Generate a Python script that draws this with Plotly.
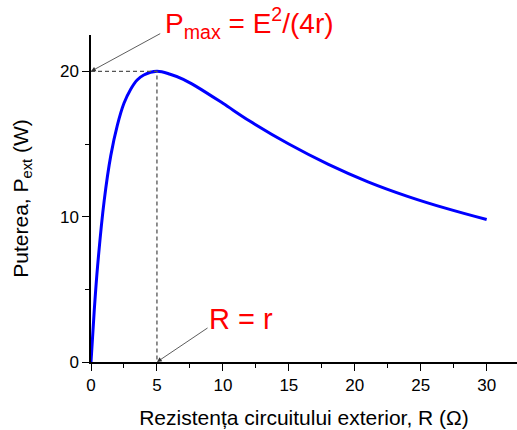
import plotly.graph_objects as go

# Data
R_vals = [0, 0.25, 0.5, 1, 1.5, 2, 2.5, 3, 3.5, 4, 5, 6, 7, 8, 10, 12, 15, 18, 21, 24, 27, 30]
P_vals = [0, 3.6, 6.6, 11.1, 14.2, 16.3, 17.8, 18.75, 19.4, 19.75, 20.0, 19.8, 19.45, 18.95,
          17.8, 16.6, 15.0, 13.6, 12.4, 11.4, 10.55, 9.8]
x_ticks = [0, 5, 10, 15, 20, 25, 30]
y_ticks = [0, 10, 20]
R_opt = 5
P_max = 20

FONT = "Liberation Sans, Arial, sans-serif"

fig = go.Figure()
fig.add_trace(go.Scatter(x=R_vals, y=P_vals, mode="lines",
                         line=dict(color="#0000ff", width=3, shape="spline", smoothing=1),
                         hoverinfo="skip", showlegend=False))
# dashed guide lines
fig.add_trace(go.Scatter(x=[0, R_opt, R_opt], y=[P_max, P_max, 0], mode="lines",
                         line=dict(color="#555555", width=1.3, dash="4px,3px"),
                         hoverinfo="skip", showlegend=False))

# arrows (no text)
fig.add_annotation(x=0, y=P_max, ax=5.36, ay=22.65, xref="x", yref="y", axref="x", ayref="y",
                   text="", showarrow=True, arrowhead=2, arrowsize=1.2, arrowwidth=0.8,
                   arrowcolor="#333333")
fig.add_annotation(x=R_opt, y=0, ax=8.95, ay=2.41, xref="x", yref="y", axref="x", ayref="y",
                   text="", showarrow=True, arrowhead=2, arrowsize=1.2, arrowwidth=0.8,
                   arrowcolor="#333333")
# labels
fig.add_annotation(x=0.168, y=1.036, xref="paper", yref="paper", xanchor="left", yanchor="middle",
                   text="P<sub>max</sub> = E<sup>2</sup>/(4r)", showarrow=False,
                   font=dict(family=FONT, size=28, color="#ff0000"))
fig.add_annotation(x=8.77, y=2.95, xref="x", yref="y", xanchor="left", yanchor="middle",
                   text="R = r", showarrow=False,
                   font=dict(family=FONT, size=29, color="#ff0000"))

axis_common = dict(showgrid=False, zeroline=False, showline=True, linecolor="black",
                   linewidth=1.5, ticks="outside", ticklen=7, tickwidth=1.3, tickcolor="black",
                   automargin=False,
                   tickfont=dict(family=FONT, size=17, color="black"))

fig.update_xaxes(range=[0, 32.3], tickvals=x_ticks,
                 minor=dict(dtick=2.5, tick0=0, ticks="outside", ticklen=4, tickcolor="black", tickwidth=1.2),
                 title=dict(text="Rezistența circuitului exterior, R (Ω)",
                            font=dict(family=FONT, size=21, color="black"), standoff=16),
                 **axis_common)
fig.update_yaxes(range=[0, 22.5], tickvals=y_ticks,
                 minor=dict(dtick=5, tick0=0, ticks="outside", ticklen=4, tickcolor="black", tickwidth=1.2),
                 title=dict(text="Puterea, P<sub>ext</sub> (W)",
                            font=dict(family=FONT, size=21, color="black"), standoff=26),
                 **axis_common)

fig.update_layout(width=517, height=430, margin=dict(l=91, r=0, t=35, b=68),
                  paper_bgcolor="white", plot_bgcolor="white",
                  font=dict(family=FONT, color="black"))

fig.write_html("out.html", config={"displayModeBar": False},
               post_script="document.body.style.margin='0';document.body.style.overflow='hidden';")
